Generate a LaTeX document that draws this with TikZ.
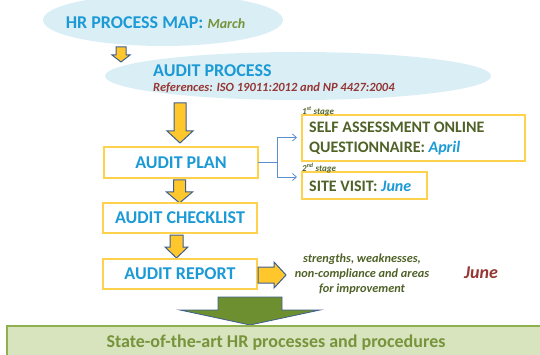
\documentclass[tikz,border=0pt]{standalone}
\usepackage{fontspec}
\setmainfont{Carlito}
\usetikzlibrary{arrows.meta,shapes.geometric}
\definecolor{tblue}{HTML}{1B9AD6}
\definecolor{tgreen}{HTML}{77933C}
\definecolor{tred}{HTML}{953735}
\definecolor{tolive}{HTML}{4F6228}
\definecolor{ellblue}{HTML}{DAEEF5}
\definecolor{boxyel}{HTML}{FFD24D}
\definecolor{arryel}{HTML}{FFC72C}
\definecolor{arrline}{HTML}{3F5F8F}
\definecolor{conncol}{HTML}{5B8FD0}
\definecolor{barfill}{HTML}{D7E4BD}
\definecolor{barline}{HTML}{8FB04F}
\definecolor{bigarr}{HTML}{6E8F30}
\tikzset{
  ell/.style={ellipse, fill=ellblue, draw=none, inner sep=0pt},
  stepbox/.style={draw=boxyel, line width=1.4pt, fill=white},
  blockarrow/.style={fill=arryel, draw=arrline, line width=1pt, line join=miter},
  conn/.style={draw=conncol, line width=0.8pt, -{Straight Barb[length=4pt,width=7pt]}},
  btxt/.style={font=\fontsize{18}{21}\selectfont\bfseries, text=tblue, inner sep=0pt},
}
\newcommand\dnarrow[6]{% cx, top, tip, shaft hw, head hw, head length
  \filldraw[blockarrow] ({#1-#4},#2) -- ({#1+#4},#2) -- ({#1+#4},{#3-#6}) -- ({#1+#5},{#3-#6})
    -- (#1,#3) -- ({#1-#5},{#3-#6}) -- ({#1-#4},{#3-#6}) -- cycle;}
\begin{document}
\begin{tikzpicture}[x=1pt,y=-1pt]
\useasboundingbox (0,0) rectangle (540,355);
% ellipses
\node[ell, minimum width=240pt, minimum height=52pt] (hr) at (163,20) {};
\node[ell, minimum width=386pt, minimum height=48pt] (ap) at (298,76) {};
\node[btxt, anchor=center] (hrt) at (155.5,23) {HR PROCESS MAP: {\color{tgreen}\itshape\fontsize{14}{16}\selectfont March}};
\node[btxt, anchor=west] (apt) at (153,71) {AUDIT PROCESS};
\node[anchor=west, inner sep=0pt, text=tred, font=\fontsize{12.5}{14}\selectfont\bfseries\itshape] (ref) at (153,88) {References: ISO 19011:2012 and NP 4427:2004};
% arrows down
\dnarrow{121}{47}{62}{5}{9}{7}
\dnarrow{180}{103}{143}{6}{13}{12}
\dnarrow{179.5}{180}{203}{6}{13}{11}
\dnarrow{176.5}{235}{258}{6.5}{11.5}{11}
% boxes
\draw[stepbox] (104,147) rectangle (258,178);
\node[btxt] (plan) at (181,162.5) {AUDIT PLAN};
\draw[stepbox] (103,203) rectangle (257,233);
\node[btxt] (check) at (180,218) {AUDIT CHECKLIST};
\draw[stepbox] (103,259) rectangle (257,289);
\node[btxt] (report) at (180,274) {AUDIT REPORT};
\coordinate (planE) at (258,162.5);
% right boxes
\draw[stepbox] (302,115) rectangle (525,161);
\draw[stepbox] (302,172) rectangle (427,199);
\node[anchor=west, inner sep=0pt, text=tolive, font=\fontsize{16}{19}\selectfont\bfseries, align=left] (self) at (309,138.5)
  {SELF ASSESSMENT ONLINE\\[1pt]QUESTIONNAIRE: {\color{tblue}\itshape April}};
\node[anchor=west, inner sep=0pt, text=tolive, font=\fontsize{16}{19}\selectfont\bfseries] (site) at (309,186)
  {SITE VISIT: {\color{tblue}\itshape June}};
\node[anchor=west, inner sep=0pt, text=tolive, font=\fontsize{9}{10}\selectfont\bfseries\itshape] (st1) at (302,111) {1\textsuperscript{st} stage};
\node[anchor=west, inner sep=0pt, text=tolive, font=\fontsize{9}{10}\selectfont\bfseries\itshape] (st2) at (302,168) {2\textsuperscript{nd} stage};
\coordinate (a1) at (297,137.5);
\coordinate (a2) at (297,177);
\coordinate (jx) at (277,162.5);
\draw[conn] (planE) -- (jx) |- (a1);
\draw[conn] (jx) |- (a2);
% right arrow from report
\filldraw[blockarrow] (258,267) -- (274,267) -- (274,262) -- (286,275) -- (274,288) -- (274,283) -- (258,283) -- cycle;
\node[inner sep=0pt, text=tolive, font=\fontsize{12.3}{15}\selectfont\bfseries\itshape, align=center] (str) at (362,274)
  {strengths, weaknesses,\\non-compliance and areas\\for improvement};
\node[inner sep=0pt, text=tred, font=\fontsize{18}{21}\selectfont\bfseries\itshape] (june) at (481,273) {June};
% big green arrow
\filldraw[fill=bigarr, draw=arrline, line width=0.8pt] (218,297) -- (282,297) -- (282,310) -- (320,310) -- (250,325) -- (180,310) -- (218,310) -- cycle;
% bottom bar
\draw[fill=barfill, draw=barline, line width=1.2pt] (7,326) rectangle (545,362);
\node[inner sep=0pt, text=tgreen, font=\fontsize{18}{21}\selectfont\bfseries] (res) at (276,343) {State-of-the-art HR processes and procedures};
\end{tikzpicture}
\end{document}
